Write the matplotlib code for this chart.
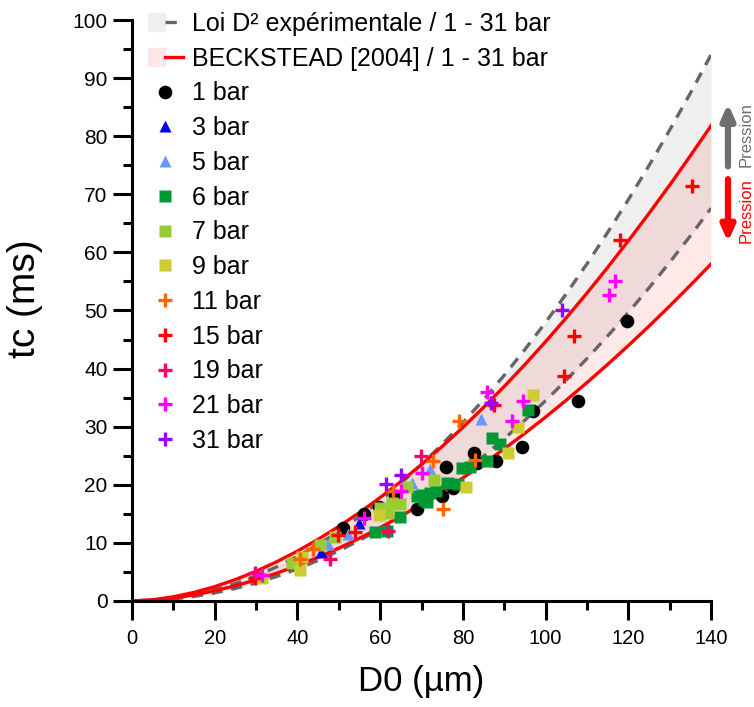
import matplotlib
matplotlib.use("Agg")
import matplotlib.pyplot as plt
from matplotlib import font_manager
from matplotlib.patches import Patch
from matplotlib.legend_handler import HandlerTuple
from matplotlib.ticker import MultipleLocator

plt.rcParams['font.family'] = ['Liberation Sans', 'DejaVu Sans']

# narrow font for the x axis if one is around
NARROW = None
for fam in ['Liberation Sans Narrow', 'DejaVu Sans Condensed']:
    try:
        font_manager.findfont(font_manager.FontProperties(family=fam), fallback_to_default=False)
        NARROW = fam
        break
    except ValueError:
        pass

# model curves, D0 in um -> tc in ms
d_curve = [0, 5, 10, 15, 20, 25, 30, 35, 40, 45, 50, 55, 60, 65, 70,
           75, 80, 85, 90, 95, 100, 105, 110, 115, 120, 125, 130, 135, 140]
d2_high = [0, 0.12, 0.48, 1.08, 1.92, 3.00, 4.32, 5.88, 7.67, 9.71, 11.99, 14.51, 17.27, 20.26, 23.50,
           26.98, 30.70, 34.65, 38.85, 43.29, 47.96, 52.88, 58.03, 63.43, 69.06, 74.94, 81.06, 87.41, 94.00]
d2_low = [0, 0.09, 0.34, 0.78, 1.38, 2.16, 3.10, 4.22, 5.52, 6.98, 8.62, 10.43, 12.41, 14.57, 16.90,
          19.40, 22.07, 24.91, 27.93, 31.12, 34.48, 38.02, 41.72, 45.60, 49.66, 53.88, 58.28, 62.84, 67.59]
beck_high = [0, 0.20, 0.71, 1.47, 2.46, 3.68, 5.11, 6.75, 8.58, 10.61, 12.82, 15.22, 17.80, 20.56, 23.49,
             26.60, 29.87, 33.32, 36.93, 40.70, 44.64, 48.74, 52.99, 57.41, 61.98, 66.71, 71.58, 76.62, 81.80]
beck_low = [0, 0.14, 0.50, 1.04, 1.75, 2.61, 3.63, 4.78, 6.08, 7.52, 9.09, 10.79, 12.62, 14.58, 16.66,
            18.86, 21.18, 23.62, 26.18, 28.86, 31.65, 34.56, 37.58, 40.71, 43.95, 47.30, 50.76, 54.33, 58.00]

# measurements
d_1bar = [50.9, 56.2, 59.6, 63.6, 69.0, 74.9, 75.9, 77.7, 82.8, 83.5, 88.0, 94.2, 97.0, 107.9, 119.8]
t_1bar = [12.5, 15.0, 16.2, 18.1, 15.8, 18.0, 23.0, 19.4, 25.4, 23.8, 24.1, 26.5, 32.7, 34.5, 48.2]
d_3bar = [31.4, 45.6, 55.0]
t_3bar = [4.5, 8.5, 13.4]
d_5bar = [47.5, 52.3, 67.6, 72.1, 84.4]
t_5bar = [9.8, 11.6, 20.3, 22.7, 31.3]
d_6bar = [58.8, 61.6, 64.7, 68.8, 70.0, 70.5, 71.3, 72.1, 73.5, 76.1, 78.7, 79.7, 81.7, 85.8, 87.0, 89.0, 95.8]
t_6bar = [11.8, 12.0, 14.5, 18.0, 18.3, 17.3, 17.1, 18.5, 19.0, 20.3, 20.1, 22.8, 23.1, 24.1, 28.0, 27.1, 32.9]
d_7bar = [38.6, 45.5, 49.1, 60.0, 62.0, 62.8, 64.8, 66.4, 72.9]
t_7bar = [6.6, 9.7, 11.0, 16.0, 15.2, 16.8, 16.7, 19.7, 20.8]
d_9bar = [31.5, 40.6, 41.0, 59.6, 80.7, 91.0, 93.4, 97.0]
t_9bar = [3.9, 5.3, 7.6, 14.8, 19.7, 25.4, 30.0, 35.5]
d_11bar = [40.6, 43.8, 63.2, 72.7, 75.3, 79.1, 82.9]
t_11bar = [7.3, 8.9, 19.0, 24.1, 15.8, 31.0, 24.3]
d_15bar = [29.7, 49.9, 53.9, 87.6, 104.4, 106.9, 118.0, 135.5]
t_15bar = [3.9, 11.3, 11.8, 33.7, 38.7, 45.6, 62.2, 71.4]
d_19bar = [29.7, 47.9, 61.8, 69.9]
t_19bar = [4.8, 7.3, 12.0, 25.0]
d_21bar = [31.4, 56.0, 65.0, 70.0, 85.9, 91.8, 94.5, 115.4, 116.9]
t_21bar = [4.4, 14.2, 18.9, 22.1, 36.0, 30.9, 34.4, 52.6, 55.1]
d_31bar = [61.5, 65.0, 86.8, 103.9]
t_31bar = [20.2, 21.6, 34.0, 50.0]

series = [
    ('1 bar', d_1bar, t_1bar, 'o', '#000000'),
    ('3 bar', d_3bar, t_3bar, '^', '#0000ff'),
    ('5 bar', d_5bar, t_5bar, '^', '#6699ff'),
    ('6 bar', d_6bar, t_6bar, 's', '#009933'),
    ('7 bar', d_7bar, t_7bar, 's', '#99cc33'),
    ('9 bar', d_9bar, t_9bar, 's', '#cccc33'),
    ('11 bar', d_11bar, t_11bar, '+', '#ff6600'),
    ('15 bar', d_15bar, t_15bar, '+', '#ff0000'),
    ('19 bar', d_19bar, t_19bar, '+', '#ff0066'),
    ('21 bar', d_21bar, t_21bar, '+', '#ff00ff'),
    ('31 bar', d_31bar, t_31bar, '+', '#9900ff'),
]

fig = plt.figure(figsize=(7.54, 7.07), dpi=100)
ax = fig.add_axes([0.1751, 0.150, 0.7679, 0.8217])

gray_fill = '#efefef'
pink_fill = (1.0, 0.0, 0.0, 0.09)
ax.fill_between(d_curve, d2_low, d2_high, color=gray_fill, lw=0, zorder=1)
ax.fill_between(d_curve, beck_low, beck_high, color=pink_fill, lw=0, zorder=1.1)

dash_kw = dict(color='#666666', lw=2.4, ls=(0, (3.4, 2.6)), zorder=2)
ln_d2, = ax.plot(d_curve, d2_high, **dash_kw)
ax.plot(d_curve, d2_low, **dash_kw)
red_kw = dict(color='#ff0000', lw=2.4, zorder=2)
ln_bk, = ax.plot(d_curve, beck_high, **red_kw)
ax.plot(d_curve, beck_low, **red_kw)

handles = [(Patch(color=gray_fill), ln_d2), (Patch(color=(1, 0.9, 0.9)), ln_bk)]
labels = ['Loi D² expérimentale / 1 - 31 bar', 'BECKSTEAD [2004] / 1 - 31 bar']
for lab, xs, ys, mk, col in series:
    if mk == '+':
        h, = ax.plot(xs, ys, ls='none', marker='+', ms=10, mew=2.4, color=col, zorder=3)
    else:
        h, = ax.plot(xs, ys, ls='none', marker=mk, ms=9.8 if mk == 'o' else 9.2,
                     color=col, mec='none', zorder=3)
    handles.append(h)
    labels.append(lab)

ax.legend(handles, labels, loc='upper left', bbox_to_anchor=(0.010, 1.031), frameon=False,
          fontsize=18, labelspacing=0.43, handlelength=1.4, handletextpad=0.38,
          borderaxespad=0, handler_map={tuple: HandlerTuple(ndivide=None, pad=0)})

ax.set_xlim(0, 140)
ax.set_ylim(0, 100)
ax.xaxis.set_major_locator(MultipleLocator(20))
ax.xaxis.set_minor_locator(MultipleLocator(10))
ax.yaxis.set_major_locator(MultipleLocator(10))
ax.yaxis.set_minor_locator(MultipleLocator(5))
for s in ['top', 'right']:
    ax.spines[s].set_visible(False)
for s in ['left', 'bottom']:
    ax.spines[s].set_linewidth(2.2)
ax.tick_params(which='major', direction='out', length=13.5, width=2.2)
ax.tick_params(which='minor', direction='out', length=6.5, width=2.2)
ax.tick_params(axis='y', labelsize=15, pad=4)
if NARROW:
    ax.tick_params(axis='x', labelsize=16, pad=6)
    for lbl in ax.get_xticklabels():
        lbl.set_family(NARROW)
    ax.set_xlabel('D0 (µm)', fontsize=28, family=NARROW, labelpad=10)
else:
    ax.tick_params(axis='x', labelsize=14.5, pad=7)
    ax.set_xlabel('D0 (µm)', fontsize=25, labelpad=12)
ax.set_ylabel('tc (ms)', fontsize=28, labelpad=12)
ax.yaxis.set_label_coords(-0.153, 0.52)

# pressure arrows on the right
ax.annotate('', xy=(144.1, 85.6), xytext=(144.1, 74.8), annotation_clip=False,
            arrowprops=dict(arrowstyle='-|>,head_length=0.9,head_width=0.4', color='#6e6e6e', lw=4.5,
                            shrinkA=0, shrinkB=0))
ax.annotate('', xy=(144.1, 61.8), xytext=(144.1, 72.6), annotation_clip=False,
            arrowprops=dict(arrowstyle='-|>,head_length=0.9,head_width=0.4', color='#ff0000', lw=4.5,
                            shrinkA=0, shrinkB=0))
ax.text(148.5, 80.2, 'Pression', rotation=90, color='#6e6e6e', fontsize=12,
        ha='center', va='center', clip_on=False)
ax.text(148.5, 67.2, 'Pression', rotation=90, color='#ff0000', fontsize=12,
        ha='center', va='center', clip_on=False)

fig.savefig('out.png', dpi=100)
